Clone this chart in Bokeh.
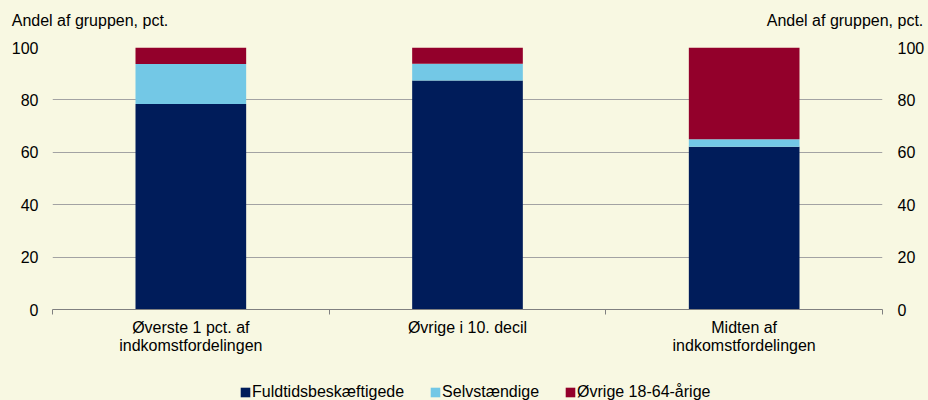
from bokeh.plotting import figure
from bokeh.layouts import column
from bokeh.models import (Range1d, LinearAxis, FixedTicker, Legend,
                          LegendItem, ColumnDataSource)
from bokeh.embed import file_html
from bokeh.resources import INLINE

# ---- data ----
categories = ["Øverste 1 pct. af\nindkomstfordelingen",
              "Øvrige i 10. decil",
              "Midten af\nindkomstfordelingen"]
series_names = ["Fuldtidsbeskæftigede", "Selvstændige", "Øvrige 18-64-årige"]
fuldtid = [78.4, 87.4, 62.1]
selvstaendige = [15.3, 6.4, 2.9]
oevrige = [6.3, 6.2, 35.0]
y_ticks = [0, 20, 40, 60, 80, 100]
y_axis_title = "Andel af gruppen, pct."

# ---- style / layout ----
BG = "#F8F8E2"
COLORS = ["#001C5A", "#73C8E6", "#93002B"]
FONT = "Liberation Sans"
FS = "16px"

W = 928
H_MAIN, H_LEG = 368, 32
FRAME_L, FRAME_R, FRAME_T, FRAME_B = 52, 882, 47, 309
n = len(categories)
px_x = (FRAME_R - FRAME_L) / n

x_pos = [i + 0.5 for i in range(n)]
boundaries = list(range(n + 1))
keys = ["s0", "s1", "s2"]
source = ColumnDataSource(dict(x=x_pos, s0=fuldtid, s1=selvstaendige, s2=oevrige))

fig = figure(width=W, height=H_MAIN, x_range=Range1d(0, n), y_range=Range1d(0, 100),
             output_backend="svg", toolbar_location=None,
             min_border_left=FRAME_L, min_border_right=W - FRAME_R,
             min_border_top=FRAME_T, min_border_bottom=H_MAIN - FRAME_B,
             background_fill_color=BG, border_fill_color=BG,
             outline_line_color=None)

fig.vbar_stack(keys, x="x", width=0.4, color=COLORS, line_color=None, source=source)

# grid
fig.xgrid.visible = False
fig.ygrid.ticker = FixedTicker(ticks=y_ticks)
fig.ygrid.grid_line_color = "#A3A3A3"
fig.ygrid.grid_line_width = 1


def style_y(ax, standoff):
    ax.ticker = FixedTicker(ticks=y_ticks)
    ax.axis_line_color = None
    ax.major_tick_line_color = None
    ax.minor_tick_line_color = None
    ax.major_tick_in = 0
    ax.major_tick_out = 0
    ax.major_label_text_font = FONT
    ax.major_label_text_font_size = FS
    ax.major_label_text_color = "black"
    ax.major_label_standoff = standoff


style_y(fig.yaxis[0], 14)
ra = LinearAxis()
style_y(ra, 15)
fig.add_layout(ra, "right")

# bottom axis: labels at category centres, ticks at category boundaries
xa = fig.xaxis[0]
xa.ticker = FixedTicker(ticks=x_pos, minor_ticks=boundaries)
xa.major_label_overrides = {xp: c for xp, c in zip(x_pos, categories)}
xa.axis_line_color = "#808080"
xa.major_tick_line_color = None
xa.major_tick_in = 0
xa.major_tick_out = 0
xa.minor_tick_line_color = "#808080"
xa.minor_tick_in = 0
xa.minor_tick_out = 5
xa.major_label_standoff = 4
xa.major_label_text_font = FONT
xa.major_label_text_font_size = FS
xa.major_label_text_color = "black"
xa.major_label_text_line_height = 1.1

# axis titles above the two value axes
title_centres = [(89.5 - FRAME_L) / px_x, (844.5 - FRAME_L) / px_x]
ta = LinearAxis(ticker=FixedTicker(ticks=title_centres))
ta.major_label_overrides = {t: y_axis_title for t in title_centres}
ta.axis_line_color = None
ta.major_tick_line_color = None
ta.minor_tick_line_color = None
ta.major_tick_in = 0
ta.major_tick_out = 0
ta.major_label_standoff = 19
ta.major_label_text_font = FONT
ta.major_label_text_font_size = FS
ta.major_label_text_color = "black"
fig.add_layout(ta, "above")

# legend strip (separate figure below the chart, frames aligned by the column)
leg_fig = figure(width=W, height=H_LEG, x_range=Range1d(0, n), y_range=Range1d(0, 100),
                 output_backend="svg", toolbar_location=None,
                 x_axis_type=None, y_axis_type=None,
                 min_border_left=FRAME_L, min_border_right=W - FRAME_R,
                 min_border_top=0, min_border_bottom=0,
                 background_fill_color=BG, border_fill_color=BG,
                 outline_line_color=None)
leg_fig.xgrid.visible = False
leg_fig.ygrid.visible = False
leg_renderers = leg_fig.vbar_stack(keys, x="x", width=0.4, color=COLORS,
                                   line_color=None, source=source)
for r in leg_renderers:
    r.visible = False
legend = Legend(items=[LegendItem(label=nm, renderers=[r])
                       for nm, r in zip(series_names, leg_renderers)],
                orientation="horizontal", location=(239 - FRAME_L, -1),
                glyph_width=12, glyph_height=12, label_standoff=1, spacing=25,
                padding=0, margin=0, border_line_color=None,
                background_fill_alpha=0, inactive_fill_alpha=0,
                label_text_font=FONT, label_text_font_size=FS,
                label_text_color="black")
leg_fig.add_layout(legend, "center")

p = column(fig, leg_fig, spacing=0, styles={"background-color": BG})
open("out.html", "w").write(file_html(p, INLINE))
